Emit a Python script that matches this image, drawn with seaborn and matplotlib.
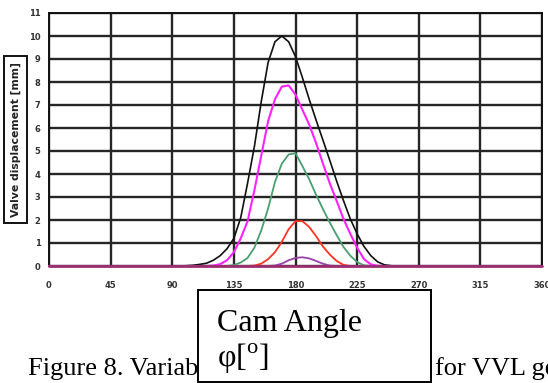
import matplotlib
matplotlib.use("Agg")
import matplotlib.pyplot as plt
from matplotlib.patches import Rectangle
import seaborn as sns
import pandas as pd

# ---- data ----
angles = [0, 45, 90, 95, 100, 105, 110, 115, 120, 125, 130, 135, 140, 145, 150, 155,
          160, 165, 170, 175, 180, 185, 190, 195, 200, 205, 210, 215, 220, 225, 230,
          235, 240, 245, 250, 255, 260, 270, 315, 360]

lift_black = [0, 0, 0, 0, 0.01, 0.03, 0.07, 0.12, 0.25, 0.45, 0.75, 1.2, 2.1, 3.6, 5.2, 7.15,
              8.85, 9.75, 10.0, 9.75, 9.1, 8.2, 7.25, 6.35, 5.48, 4.6, 3.7, 2.85, 2.05, 1.4, 0.85,
              0.45, 0.18, 0.05, 0.01, 0, 0, 0, 0, 0]
lift_magenta = [0, 0, 0, 0, 0, 0, 0, 0, 0.02, 0.08, 0.25, 0.6, 1.2, 1.95, 3.3, 4.8,
                6.3, 7.25, 7.8, 7.85, 7.45, 6.8, 6.15, 5.35, 4.46, 3.6, 2.84, 2.05, 1.4, 0.8, 0.3,
                0.07, 0.01, 0, 0, 0, 0, 0, 0, 0]
lift_green = [0, 0, 0, 0, 0, 0, 0, 0, 0, 0, 0, 0.04, 0.15, 0.35, 0.8, 1.55,
              2.5, 3.65, 4.45, 4.85, 4.9, 4.35, 3.77, 3.1, 2.48, 1.89, 1.35, 0.83, 0.45, 0.17, 0.03,
              0, 0, 0, 0, 0, 0, 0, 0, 0]
lift_red = [0, 0, 0, 0, 0, 0, 0, 0, 0, 0, 0, 0, 0, 0, 0.02, 0.1,
            0.3, 0.6, 1.05, 1.6, 1.95, 1.95, 1.7, 1.3, 0.85, 0.5, 0.22, 0.05, 0, 0, 0,
            0, 0, 0, 0, 0, 0, 0, 0, 0]
lift_purple = [0, 0, 0, 0, 0, 0, 0, 0, 0, 0, 0, 0, 0, 0, 0, 0,
               0, 0.02, 0.1, 0.25, 0.35, 0.38, 0.33, 0.22, 0.1, 0.02, 0, 0, 0, 0, 0,
               0, 0, 0, 0, 0, 0, 0, 0, 0]
lift_zero = [0] * len(angles)

series_names = ["black", "magenta", "green", "red", "purple", "zero"]
series_values = [lift_black, lift_magenta, lift_green, lift_red, lift_purple, lift_zero]
series_colors = ["#111111", "#ff22ff", "#4a9e70", "#ff3322", "#9a3fa8", "#9b2e6e"]
series_widths = [1.2, 1.5, 1.3, 1.3, 1.3, 2.0]

x_ticks = [0, 45, 90, 135, 180, 225, 270, 315, 360]
y_ticks = list(range(0, 12))

rows = []
for name, vals in zip(series_names, series_values):
    for a, v in zip(angles, vals):
        rows.append({"series": name, "angle": a, "lift": v})
df = pd.DataFrame(rows)

# ---- figure ----
sns.set_style("white")
W, H = 548, 383
fig = plt.figure(figsize=(W / 100, H / 100), dpi=100)
ax = fig.add_axes([49 / W, 1 - 266 / H, (542 - 49) / W, (266 - 13) / H])

for name, col, lw in zip(series_names, series_colors, series_widths):
    sub = df[df["series"] == name]
    sns.lineplot(data=sub, x="angle", y="lift", ax=ax, color=col, linewidth=lw,
                 legend=False, estimator=None, sort=False, clip_on=False, zorder=4)

ax.set_xlim(0, 360)
ax.set_ylim(0, 11)
ax.set_xticks(x_ticks)
ax.set_yticks(y_ticks)
ax.set_xticklabels([str(t) for t in x_ticks])
ax.set_yticklabels([str(t) for t in y_ticks])
ax.grid(True, color="#262626", linewidth=1.7)
ax.set_axisbelow(True)
for s in ax.spines.values():
    s.set_color("#111111")
    s.set_linewidth(1.4)
ax.tick_params(axis="both", which="both", direction="out", length=3, width=1,
               color="#333333", labelsize=6, labelcolor="#333333")
ax.tick_params(axis="x", pad=7.5)
ax.tick_params(axis="y", pad=3)
for lab in ax.get_xticklabels() + ax.get_yticklabels():
    lab.set_fontweight("bold")
    lab.set_family("DejaVu Sans")
ax.set_xlabel("")
ax.set_ylabel("")

# y-axis title in a box
fig.text(15.5 / W, 1 - 139.5 / H, "Valve displacement [mm]", rotation=90,
         ha="center", va="center", fontsize=7.8, fontweight="bold",
         family="DejaVu Sans", color="#222222",
         bbox=dict(boxstyle="square,pad=0.6", facecolor="white",
                   edgecolor="#111111", linewidth=1.4))

# caption (partly hidden behind the box)
fig.text(28 / W, 1 - 375.5 / H, "Figure 8. Variable valve lift",
         fontsize=19, family="Liberation Serif", va="baseline", ha="left",
         color="black", zorder=1)
fig.text(435 / W, 1 - 375.5 / H, "for VVL geometry",
         fontsize=19, family="Liberation Serif", va="baseline", ha="left",
         color="black", zorder=1)

# "Cam Angle" box
rect = Rectangle((197.5 / W, 1 - 382 / H), (431 - 197.5) / W, (382 - 290) / H,
                 transform=fig.transFigure, facecolor="white", edgecolor="black",
                 linewidth=1.4, zorder=2)
fig.patches.append(rect)
plt.rcParams["mathtext.fontset"] = "custom"
plt.rcParams["mathtext.rm"] = "Liberation Serif"
fig.text(217 / W, 1 - 331 / H, "Cam Angle", fontsize=23, family="Liberation Serif",
         va="baseline", ha="left", color="black", zorder=3)
fig.text(217 / W, 1 - 367 / H, r"φ[$^{\mathrm{o}}$]", fontsize=23,
         family="Liberation Serif", va="baseline", ha="left", color="black", zorder=3)

fig.savefig("out.png", dpi=100)
